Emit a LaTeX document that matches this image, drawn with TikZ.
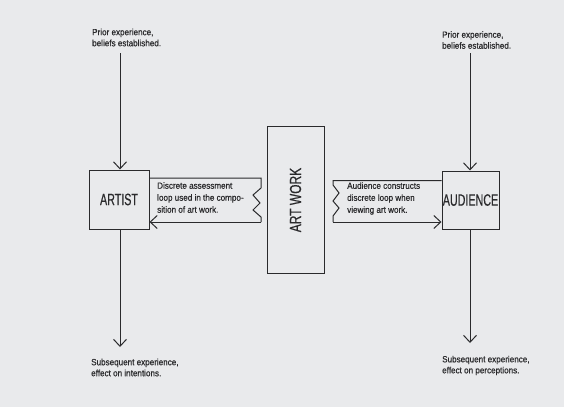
\documentclass[tikz,border=0pt]{standalone}
\usepackage{fontspec}
\setmainfont{Liberation Sans}
\newfontfamily\smallfont[FakeStretch=0.9,FakeBold=0.6]{Liberation Sans}
\newfontfamily\bigfont[FakeStretch=0.65,FakeBold=0.4]{Liberation Sans}
\newfontfamily\artfont[FakeStretch=0.75,FakeBold=0.4]{Liberation Sans}
\usetikzlibrary{arrows.meta}
\definecolor{bg}{HTML}{E9EAEC}
\definecolor{ink}{HTML}{2A2A2C}
\tikzset{
  box/.style={draw=ink, line width=1pt, rectangle, inner sep=0pt},
  biglabel/.style={font=\bigfont\fontsize{16.5}{18}\selectfont, text=ink},
  note/.style={font=\smallfont\fontsize{9}{11}\selectfont, text=ink, align=left, inner sep=0pt},
  loopnote/.style={font=\smallfont\fontsize{9}{12}\selectfont, text=ink, align=left, inner sep=0pt},
  conn/.style={draw=ink, line width=1pt},
  arr/.style={conn, -{Straight Barb[length=7pt,width=13pt,line width=1pt]}},
}
\begin{document}
\begin{tikzpicture}[x=1pt,y=-1pt]
\fill[bg] (0,0) rectangle (564,407);
\useasboundingbox (0,0) rectangle (564,407);

% main boxes
\node[box, minimum width=60pt, minimum height=59pt] (artist) at (119,199.5) {};
\node[biglabel] at (artist.center) {ARTIST};
\node[box, minimum width=57pt, minimum height=147pt] (artwork) at (295.5,200) {};
\node[biglabel, font=\artfont\fontsize{16}{18}\selectfont, rotate=90] at (artwork.center) {ART WORK};
\node[box, minimum width=57pt, minimum height=58pt] (audience) at (470.5,200) {};
\node[biglabel] at (audience.center) {AUDIENCE};

% text notes
\node[note, anchor=west] (priorL) at (92,37.5) {Prior experience,\\beliefs established.};
\node[note, anchor=west] (priorR) at (442,40) {Prior experience,\\beliefs established.};
\node[note, anchor=west] (subL) at (91,367.5) {Subsequent experience,\\effect on intentions.};
\node[note, anchor=west] (subR) at (442,365.5) {Subsequent experience,\\effect on perceptions.};

% vertical arrows
\coordinate (tL) at (120,53);
\coordinate (bL) at (120,347);
\coordinate (tR) at (470,53);
\coordinate (bR) at (470,343);
\draw[arr] (tL) -- (tL |- artist.north);
\draw[arr] (artist.south -| bL) -- (bL);
\draw[arr] (tR) -- (tR |- audience.north);
\draw[arr] (audience.south -| bR) -- (bR);

% artist loop
\coordinate (a1) at (261,178);
\coordinate (a2) at (261,222);
\draw[conn, line join=miter] (a1 -| artist.east) -- (a1) -- (261,188) -- (253,195) -- (260,203)
  -- (253,210) -- (261,217) -- (a2);
\draw[arr] (a2) -- (a2 -| artist.east);
\node[loopnote, anchor=west] (aloop) at (157,197.5) {Discrete assessment\\loop used in the compo-\\sition of art work.};

% audience loop
\coordinate (b1) at (333,180.5);
\coordinate (b2) at (333,222);
\draw[conn, line join=miter] (b1 -| audience.west) -- (b1) -- (333,185) -- (339,193) -- (333,201)
  -- (339,208) -- (333,216) -- (b2);
\draw[arr] (b2) -- (b2 -| audience.west);
\node[loopnote, anchor=west] (bloop) at (347,198.5) {Audience constructs\\discrete loop when\\viewing art work.};
\end{tikzpicture}
\end{document}
